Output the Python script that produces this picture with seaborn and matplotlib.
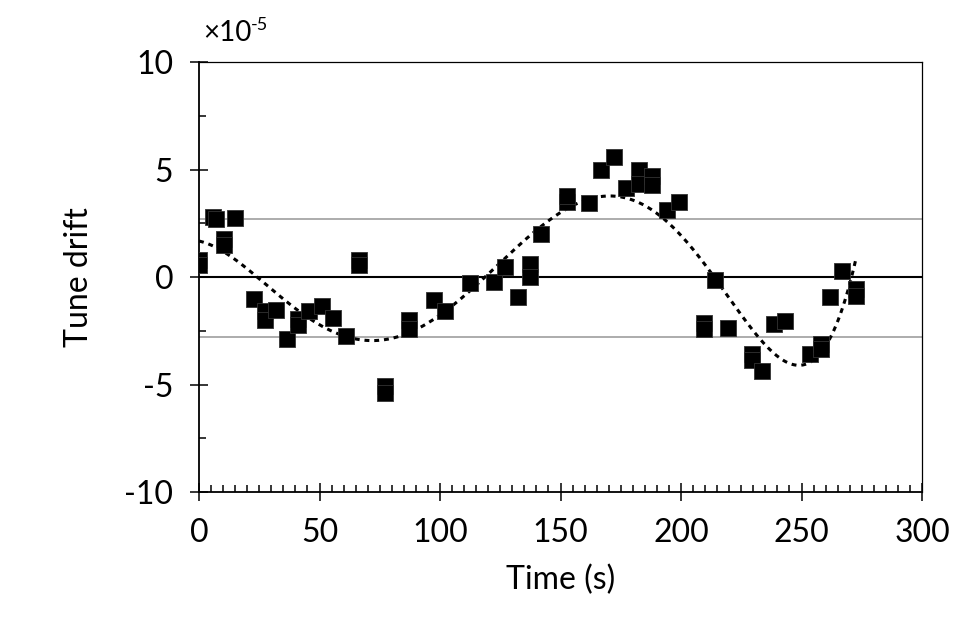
import numpy as np
import matplotlib
matplotlib.use("Agg")
import matplotlib.pyplot as plt
import seaborn as sns
from matplotlib.ticker import MultipleLocator

# measured tune drift (units of 1e-5) against time
time_s = [0, 0, 6, 7, 10.5, 10.5, 15, 23, 27.5, 27.5, 32, 36.5, 41, 41, 45.5, 51,
          55.5, 61, 66.5, 66.5, 77, 77, 87, 87, 97.5, 102, 112.5, 122.5, 127,
          132.5, 137.5, 137.5, 142, 152.5, 152.5, 162, 167, 172, 177, 182.5,
          182.5, 188, 188, 194, 199, 209.5, 209.5, 214, 219.5, 229.5, 229.5,
          233.5, 238.5, 243, 253.5, 258, 258, 262, 267, 272.5, 272.5]
drift = [0.8, 0.55, 2.8, 2.7, 1.75, 1.5, 2.75, -1.0, -1.6, -2.0, -1.55, -2.9,
         -1.95, -2.25, -1.6, -1.35, -1.9, -2.75, 0.8, 0.55, -5.05, -5.4, -2.0,
         -2.4, -1.05, -1.6, -0.28, -0.25, 0.45, -0.95, 0.6, 0.0, 2.0, 3.5,
         3.75, 3.45, 5.0, 5.6, 4.15, 5.0, 4.35, 4.7, 4.3, 3.1, 3.5, -2.15,
         -2.4, -0.15, -2.35, -3.6, -3.85, -4.35, -2.2, -2.05, -3.6, -3.1,
         -3.35, -0.95, 0.3, -0.55, -0.9]

# spread lines
band_upper = 2.7
band_lower = -2.8

sns.set_style("white")
plt.rcParams['font.family'] = ['Lato', 'DejaVu Sans']
plt.rcParams['axes.unicode_minus'] = False

fig = plt.figure(figsize=(9.68, 6.24), dpi=100)
ax = fig.add_axes([0.2056, 0.2115, 0.7469, 0.6891])

ax.axhline(band_upper, color='#a6a6a6', lw=1.3, zorder=1)
ax.axhline(band_lower, color='#a6a6a6', lw=1.3, zorder=1)
ax.axhline(0, color='black', lw=1.5, zorder=1)

# polynomial trendline through the measurements
coef = np.polyfit(time_s, drift, 6)
xs = np.linspace(min(time_s), max(time_s), 300)
sns.lineplot(x=xs, y=np.polyval(coef, xs), ax=ax, color='black', lw=2.2,
             linestyle=(0, (1.6, 1.6)), zorder=2)

sns.scatterplot(x=time_s, y=drift, ax=ax, marker='s', s=130, color='black',
                edgecolor='#333333', linewidth=0.6, zorder=3)

ax.set_xlim(0, 300)
ax.set_ylim(-10, 10)
ax.xaxis.set_major_locator(MultipleLocator(50))
ax.xaxis.set_minor_locator(MultipleLocator(5))
ax.yaxis.set_major_locator(MultipleLocator(5))
ax.yaxis.set_minor_locator(MultipleLocator(2.5))
ax.tick_params(which='major', direction='inout', length=13, width=1.1,
               labelsize=23, color='black', labelcolor='black', pad=12)
ax.tick_params(which='minor', direction='in', length=5, width=1.1, color='black')
ax.tick_params(axis='x', which='both', bottom=True, top=False)
ax.tick_params(axis='y', which='both', left=True, right=False)

for side in ['left', 'bottom']:
    ax.spines[side].set_linewidth(1.3)
    ax.spines[side].set_color('black')
for side in ['top', 'right']:
    ax.spines[side].set_linewidth(0.9)
    ax.spines[side].set_color('black')

ax.set_xlabel('Time (s)', fontsize=23, labelpad=12, color='black')
ax.set_ylabel('Tune drift', fontsize=23, labelpad=22, color='black')

fig.text(203 / 968, 1 - 41 / 624, '×10', fontsize=20, va='baseline', color='black')
fig.text(251 / 968, 1 - 30 / 624, '-5', fontsize=13, va='baseline', color='black')

fig.savefig('out.png', dpi=100)
